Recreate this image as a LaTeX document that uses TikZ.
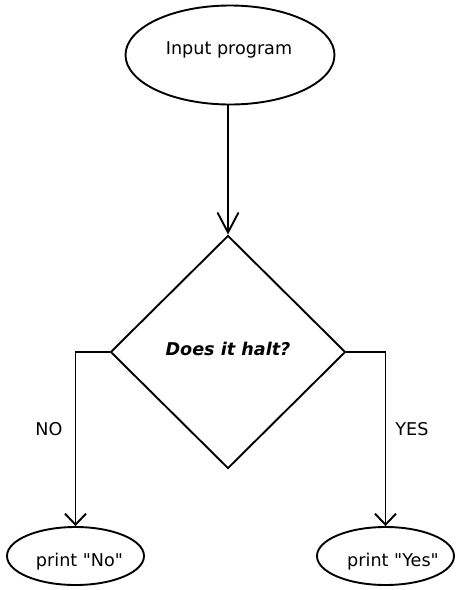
\documentclass[tikz,border=0pt]{standalone}
\usepackage{fontspec}
\setmainfont{DejaVu Sans}[Ligatures = TeXOff]
\usetikzlibrary{shapes.geometric}
\usetikzlibrary{arrows.meta}
\tikzstyle{chart} = [x = 1pt, y = -1pt, line width = 1.9pt]
\tikzstyle{terminalStyle} = [draw, ellipse, inner sep = 0pt]
\tikzstyle{decisionStyle} = [draw, diamond, inner sep = 0pt, minimum width = 235pt, minimum height = 233pt]
\tikzstyle{chartText} = [font = \fontsize{17.6}{21}\selectfont, inner sep = 0pt]
\tikzstyle{longArrow} = [-{Straight Barb[length = 20pt, width = 21pt]}]
\tikzstyle{shortArrow} = [-{Straight Barb[length = 11pt, width = 21pt]}]
\newcommand{\terminal}[5]{\node [terminalStyle, minimum width = #4pt, minimum height = #5pt] (#1) at (#2,#3) {};}
\begin{document}
\begin{tikzpicture}[chart]
            \useasboundingbox (0,0) rectangle (460,590);
            \terminal{input}{230}{55}{209}{99}
            \node [decisionStyle] (halt) at (228,352) {};
            \terminal{printNo}{75.5}{556}{137}{58}
            \terminal{printYes}{385.5}{556}{137}{58}

            \node [chartText] (inputText) at (229,50.4) {Input program};
            \node [chartText, font = \fontsize{17.6}{21}\selectfont\bfseries\itshape] (haltText) at (228,349) {Does it halt?};
            \node [chartText] (noText) at (79.5,561.4) {print "No"};
            \node [chartText] (yesText) at (393,561.4) {print "Yes"};
            \node [chartText] (noLabel) at (49,429) {NO};
            \node [chartText] (yesLabel) at (412,429) {YES};

            \draw [longArrow] (halt.north |- input.south) -- (halt.north);
            \draw [shortArrow] (halt.west) -- (halt.west -| printNo.north) -- (printNo.north);
            \draw [shortArrow] (halt.east) -- (halt.east -| printYes.north) -- (printYes.north);
          \end{tikzpicture}
\end{document}
